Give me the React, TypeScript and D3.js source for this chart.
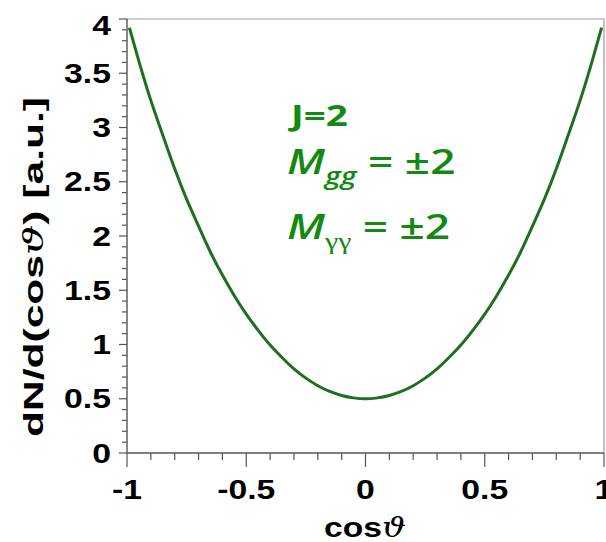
import React, { useEffect, useRef } from "react";
import * as d3 from "d3";

// cos(theta) sample positions and dN/d(cos theta)
const cosTheta = [
  -0.99, -0.95, -0.9, -0.85, -0.8, -0.75, -0.7, -0.65, -0.6, -0.55, -0.5,
  -0.45, -0.4, -0.35, -0.3, -0.25, -0.2, -0.15, -0.1, -0.05, 0,
  0.05, 0.1, 0.15, 0.2, 0.25, 0.3, 0.35, 0.4, 0.45, 0.5,
  0.55, 0.6, 0.65, 0.7, 0.75, 0.8, 0.85, 0.9, 0.95, 0.99,
];
const dNdCos = [
  3.92, 3.61, 3.25, 2.93, 2.62, 2.34, 2.09, 1.85, 1.64, 1.45, 1.28,
  1.13, 0.995, 0.88, 0.775, 0.69, 0.62, 0.567, 0.53, 0.508, 0.5,
  0.508, 0.53, 0.567, 0.62, 0.69, 0.775, 0.88, 0.995, 1.13, 1.28,
  1.45, 1.64, 1.85, 2.09, 2.34, 2.62, 2.93, 3.25, 3.61, 3.92,
];

const xTickLabels = [-1, -0.5, 0, 0.5, 1];
const yTickLabels = [0, 0.5, 1, 1.5, 2, 2.5, 3, 3.5, 4];

function App() {
  const chart = useRef<SVGSVGElement | null>(null);

  useEffect(() => {
    const width = 606;
    const height = 542;
    const plot = { left: 127, right: 604, top: 19, bottom: 453 };
    const svg = d3.select(chart.current)
      .attr("width", width)
      .attr("height", height);

    const x = d3.scaleLinear().domain([-1, 1]).range([plot.left, plot.right]);
    const y = d3.scaleLinear().domain([0, 4]).range([plot.bottom, plot.top]);

    svg.append("rect").attr("width", width).attr("height", height).attr("fill", "#fff");

    // frame (top / right lighter)
    svg.append("path")
      .attr("d", `M${plot.left},${plot.top}H${plot.right}V${plot.bottom}`)
      .attr("fill", "none")
      .attr("stroke", "#999")
      .attr("stroke-width", 1.2);

    const axisColour = "#555";

    // minor + major ticks, y axis (outside, left)
    const yMinor = d3.range(0, 41).map(i => i / 10);
    svg.selectAll(".y-tick")
      .data(yMinor)
      .enter()
      .append("line")
      .attr("class", "y-tick")
      .attr("x1", d => plot.left - (Math.round(d * 10) % 5 === 0 ? 8 : 5))
      .attr("x2", plot.left)
      .attr("y1", d => y(d))
      .attr("y2", d => y(d))
      .attr("stroke", axisColour)
      .attr("stroke-width", 1.2);

    // x axis ticks (outside, down)
    const xMinor = d3.range(-10, 11).map(i => i / 10);
    svg.selectAll(".x-tick")
      .data(xMinor)
      .enter()
      .append("line")
      .attr("class", "x-tick")
      .attr("x1", d => x(d))
      .attr("x2", d => x(d))
      .attr("y1", plot.bottom)
      .attr("y2", d => plot.bottom + (Math.round(d * 10) % 5 === 0 ? 14 : 7))
      .attr("stroke", axisColour)
      .attr("stroke-width", 1.2);

    // axis lines
    svg.append("path")
      .attr("d", `M${plot.left},${plot.top}V${plot.bottom}H${plot.right}`)
      .attr("fill", "none")
      .attr("stroke", axisColour)
      .attr("stroke-width", 1.4);

    const labelFont = "'Liberation Sans', Arial, sans-serif";
    const thetaFont = "'DejaVu Serif', 'Liberation Serif', serif";

    svg.selectAll(".y-label")
      .data(yTickLabels)
      .enter()
      .append("text")
      .attr("class", "y-label")
      .attr("transform", d => `translate(111,${Math.max(y(d), 25) + 9.5}) scale(1.25,1)`)
      .attr("text-anchor", "end")
      .attr("font-family", labelFont)
      .attr("font-weight", "bold")
      .attr("font-size", 27)
      .attr("fill", "#000")
      .text(d => String(d));

    svg.selectAll(".x-label")
      .data(xTickLabels)
      .enter()
      .append("text")
      .attr("class", "x-label")
      .attr("transform", d => `translate(${x(d)},499) scale(1.25,1)`)
      .attr("text-anchor", "middle")
      .attr("font-family", labelFont)
      .attr("font-weight", "bold")
      .attr("font-size", 27)
      .attr("fill", "#000")
      .text(d => String(d));

    // axis titles
    const xTitle = svg.append("text")
      .attr("transform", "translate(365,537) scale(1.2,1)")
      .attr("text-anchor", "middle")
      .attr("font-family", labelFont)
      .attr("font-weight", "bold")
      .attr("font-size", 28);
    xTitle.append("tspan").text("cos");
    xTitle.append("tspan")
      .attr("font-family", thetaFont)
      .attr("font-weight", "normal")
      .attr("font-style", "italic")
      .text("\u03D1");

    const yTitle = svg.append("text")
      .attr("transform", "translate(43,267) rotate(-90)")
      .attr("text-anchor", "middle")
      .attr("font-family", labelFont)
      .attr("font-weight", "bold")
      .attr("font-size", 28)
      .attr("textLength", 340)
      .attr("lengthAdjust", "spacingAndGlyphs");
    yTitle.append("tspan").text("dN/d(cos");
    yTitle.append("tspan")
      .attr("font-family", thetaFont)
      .attr("font-weight", "normal")
      .attr("font-style", "italic")
      .text("\u03D1");
    yTitle.append("tspan").text(") [a.u.]");

    // curve
    const points = cosTheta.map((c, i) => [c, dNdCos[i]] as [number, number]);
    const line = d3.line<[number, number]>()
      .x(d => x(d[0]))
      .y(d => y(d[1]))
      .curve(d3.curveNatural);
    svg.append("path")
      .datum(points)
      .attr("d", line)
      .attr("fill", "none")
      .attr("stroke", "#1f6f1f")
      .attr("stroke-width", 3);

    // annotation
    const green = "#128a12";
    const noteFont = "'Open Sans', Lato, sans-serif";

    svg.append("text")
      .attr("transform", "translate(291,126) scale(1.33,1)")
      .attr("font-family", noteFont)
      .attr("font-weight", 700)
      .attr("font-size", 29)
      .attr("fill", green)
      .text("J=2");

    const subLine = (baseline: number, sub: string, shift: number, subFont: string, subItalic: boolean) => {
      const t = svg.append("text")
        .attr("transform", `translate(287,${baseline}) scale(1.3,1)`)
        .attr("font-family", noteFont)
        .attr("font-weight", 600)
        .attr("font-size", 34)
        .attr("fill", green);
      t.append("tspan").attr("font-style", "italic").text("M");
      t.append("tspan")
        .attr("font-family", subFont)
        .attr("font-style", subItalic ? "italic" : "normal")
        .attr("font-weight", subItalic ? 600 : 400)
        .attr("font-size", 23)
        .attr("dy", shift)
        .text(sub);
      t.append("tspan").attr("dy", -shift).text(" = \u00B12");
    };
    subLine(174, "gg", 10, noteFont, true);
    subLine(239, "\u03B3\u03B3", 10, "'Liberation Serif', 'DejaVu Serif', serif", false);

    return () => {
      svg.selectAll("*").remove();
    };
  }, []);

  return (
    <svg ref={chart} style={{ position: "absolute", left: 0, top: 0 }}></svg>
  );
}

export default App;
